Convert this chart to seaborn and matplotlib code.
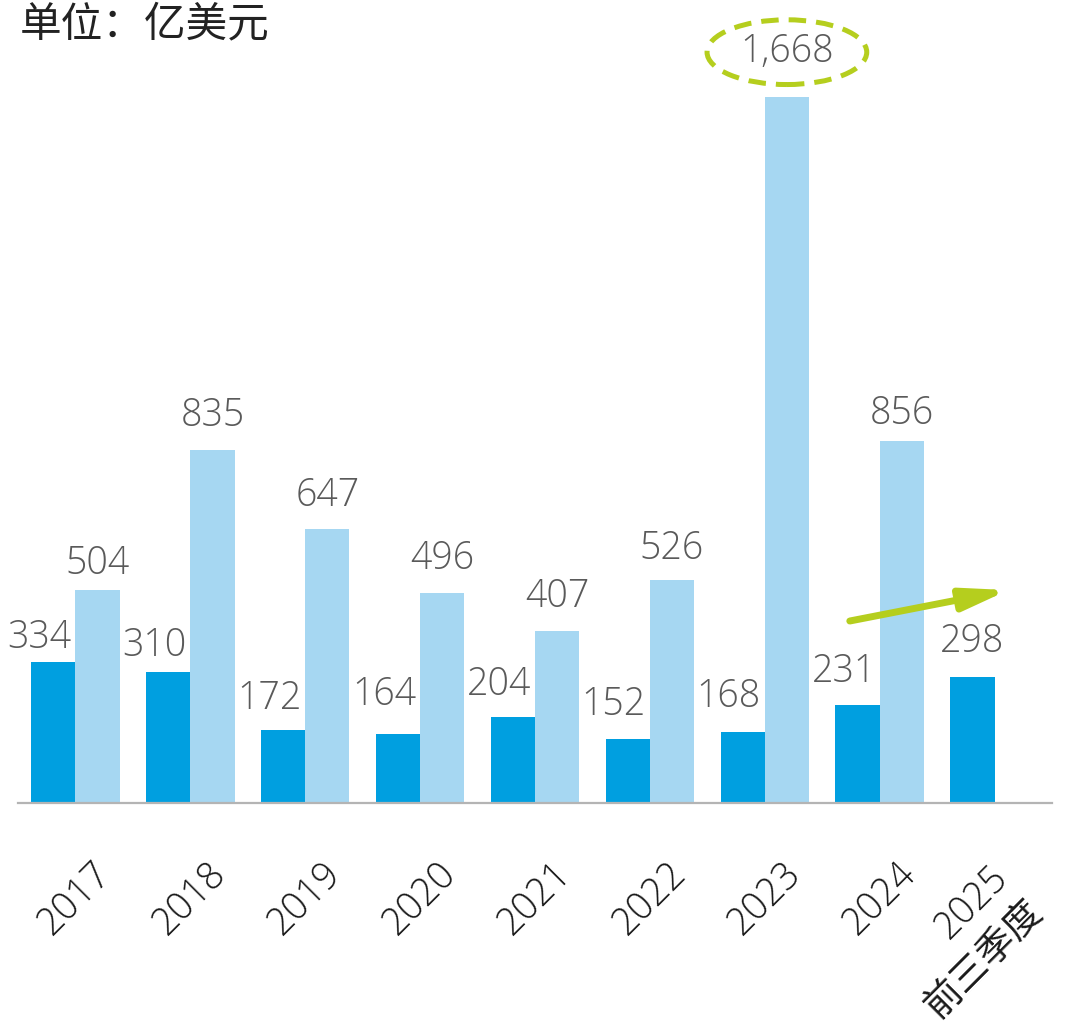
import matplotlib
matplotlib.use("Agg")
import matplotlib.pyplot as plt
import matplotlib.transforms as mtransforms
from matplotlib.patches import Ellipse, FancyArrowPatch
import seaborn as sns
import pandas as pd

# ---- data ----
years = ["2017", "2018", "2019", "2020", "2021", "2022", "2023", "2024", "2025"]
tick_labels = ["2017", "2018", "2019", "2020", "2021", "2022", "2023", "2024", "2025\n前三季度"]
series_dark = [334, 310, 172, 164, 204, 152, 168, 231, 298]
series_light = [504, 835, 647, 496, 407, 526, 1668, 856]   # no value for 2025
series_names = ["dark", "light"]
title = "单位：亿美元"

# label placement (style, in points above bar top)
dark_label_dy = [17, 18.5, 23, 28, 23, 24.5, 25, 24, 25]
light_label_dy = [19, 24.5, 24, 25, 24.5, 23, 32.5, 19.5]

rows = [(y, series_names[0], v) for y, v in zip(years, series_dark)]
rows += [(y, series_names[1], v) for y, v in zip(years, series_light)]
df = pd.DataFrame(rows, columns=["year", "series", "value"])

sns.set_theme(style="white")
FONT = ["Open Sans", "Noto Sans CJK SC", "DejaVu Sans"]
plt.rcParams["font.family"] = FONT

DARK = "#009FE0"
LIGHT = "#A6D7F2"
GREEN = "#B5CE1E"
LABEL_C = "#5A5A5A"

fig = plt.figure(figsize=(10.8, 10.31), dpi=100)
ax = fig.add_axes([18 / 1080, (1031 - 803) / 1031, 1034 / 1080, (803 - 20) / 1031])

sns.barplot(data=df, x="year", y="value", hue="series", order=years,
            hue_order=series_names, palette=[DARK, LIGHT], width=0.77,
            dodge=True, legend=False, saturation=1, ax=ax, linewidth=0)

ax.set_xlim(-0.5, 8.5)
ax.set_ylim(0, 1850)
ax.set_xlabel("")
ax.set_ylabel("")
ax.set_yticks([])
for s in ["left", "right", "top"]:
    ax.spines[s].set_visible(False)
ax.spines["bottom"].set_color("#B4B4B4")
ax.spines["bottom"].set_linewidth(1.6)

# value labels
dark_bars, light_bars = ax.containers[0], ax.containers[1]
for i, (bar, v) in enumerate(zip(dark_bars, series_dark)):
    x = bar.get_x() + bar.get_width() / 2
    dx = -10 if i < len(series_light) else 0
    ax.annotate(f"{v:,}", (x, v), xytext=(dx, dark_label_dy[i]), textcoords="offset points",
                ha="center", va="center", fontsize=27, color=LABEL_C,
                fontweight="light", annotation_clip=False)
for i, (bar, v) in enumerate(zip(light_bars, series_light)):
    x = bar.get_x() + bar.get_width() / 2
    ax.annotate(f"{v:,}", (x, v), xytext=(0, light_label_dy[i]), textcoords="offset points",
                ha="center", va="center", fontsize=27, color=LABEL_C,
                fontweight="light", annotation_clip=False)

# dashed ellipse around max value
imax = series_light.index(max(series_light))
mb = light_bars[imax]
cx = mb.get_x() + mb.get_width() / 2
ell = Ellipse((cx, max(series_light) + 106), width=1.39, height=153,
              fill=False, edgecolor=GREEN, linewidth=3.6,
              linestyle=(0, (3.5, 2)), clip_on=False, zorder=5)
ax.add_patch(ell)

# trend arrow
arrow = FancyArrowPatch((6.74, 430), (8.12, 503),
                        arrowstyle="-|>,head_length=1.35,head_width=0.33",
                        mutation_scale=20, color=GREEN, linewidth=5,
                        capstyle="round", clip_on=False, zorder=5,
                        shrinkA=0, shrinkB=0)
ax.add_patch(arrow)

# x tick labels
ax.set_xticks(range(len(years)))
ax.set_xticklabels(tick_labels)
ax.tick_params(axis="x", length=0, pad=37)
labels = ax.get_xticklabels()
for k, lab in enumerate(labels):
    lab.set_rotation(45)
    lab.set_ha("right")
    lab.set_va("top")
    lab.set_rotation_mode("anchor")
    lab.set_multialignment("right")
    lab.set_linespacing(1.35)
    lab.set_fontsize(27)
    lab.set_fontweight("light")
    lab.set_color("#1A1A1A")
    lab.set_family(FONT)
    dx = 12 if k < len(labels) - 1 else -4
    dy = 0 if k < len(labels) - 1 else -3
    off = mtransforms.ScaledTranslation(dx / 72, dy / 72, fig.dpi_scale_trans)
    lab.set_transform(lab.get_transform() + off)

fig.text(20 / 1080, 1 - 25 / 1031, title, ha="left", va="center",
         fontsize=30, color="#222222", family=["Noto Sans CJK SC", "DejaVu Sans"])

fig.savefig("out.png", dpi=100)
